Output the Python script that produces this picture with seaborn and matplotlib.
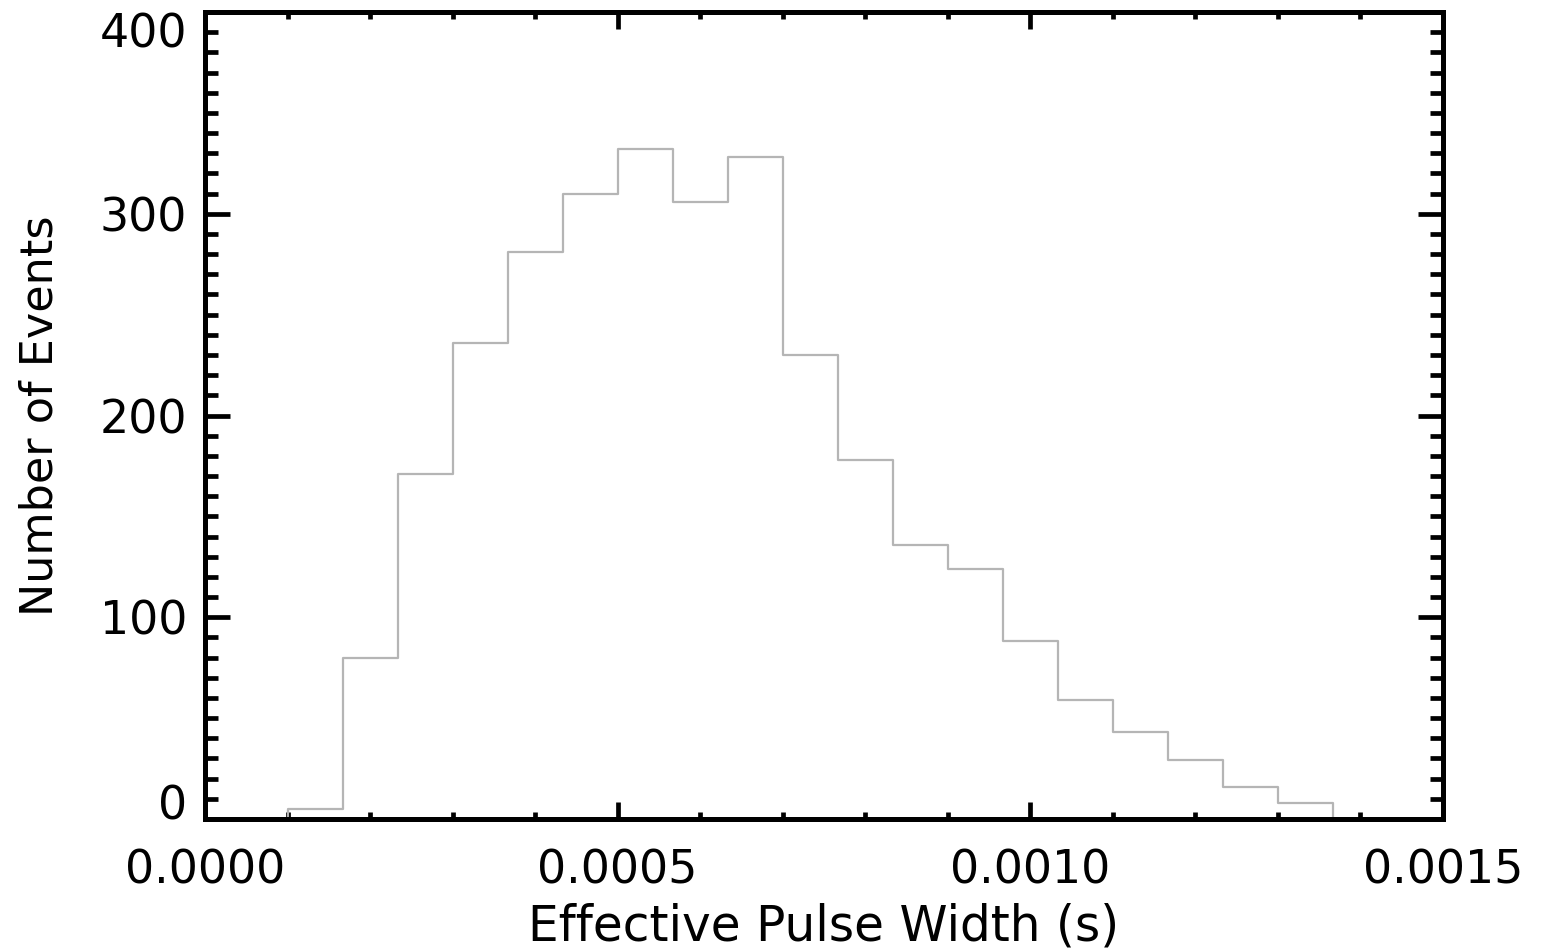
import numpy as np
import pandas as pd
import matplotlib
matplotlib.use("Agg")
import matplotlib.pyplot as plt
from matplotlib.ticker import MultipleLocator, FixedLocator
import seaborn as sns

# Histogram of effective pulse widths
bin_start = 0.0001          # s, left edge of first bin
bin_width = 0.0000667       # s
counts = [5, 80, 171, 236, 281, 310, 332, 306, 328, 230,
          178, 136, 124, 88, 59, 43, 29, 16, 8]

x_ticks = [0.0, 0.0005, 0.0010, 0.0015]
x_ticklabels = ["0.0000", "0.0005", "0.0010", "0.0015"]
y_ticks = [0, 100, 200, 300, 400]
y_ticklabels = ["0", "100", "200", "300", "400"]

edges = bin_start + bin_width * np.arange(len(counts) + 1)
centers = (edges[:-1] + edges[1:]) / 2
df = pd.DataFrame({"width": centers, "n": counts})

sns.set_theme(style="white")
plt.rcParams["font.family"] = ["DejaVu Sans"]
plt.rcParams["text.color"] = "black"
plt.rcParams["axes.labelcolor"] = "black"
plt.rcParams["xtick.color"] = "black"
plt.rcParams["ytick.color"] = "black"

fig = plt.figure(figsize=(15.46, 9.49), dpi=100)
ax = fig.add_axes([205 / 1546, 1 - 819 / 949, 1238 / 1546, 807 / 949])

sns.histplot(data=df, x="width", weights="n", bins=edges.tolist(),
             element="step", fill=True, color="#b5b5b5", facecolor="none",
             edgecolor="#b5b5b5", linewidth=1.6, ax=ax)

ax.set_xlim(0, 0.0015)
ax.set_ylim(0, 400)
ax.xaxis.set_major_locator(FixedLocator(x_ticks))
ax.set_xticklabels(x_ticklabels)
ax.yaxis.set_major_locator(FixedLocator(y_ticks))
ylabels = ax.set_yticklabels(y_ticklabels)
# keep the end labels inside the frame
ylabels[0].set_va("baseline")
ylabels[-1].set_va("top")
ax.xaxis.set_minor_locator(MultipleLocator(0.0001))
ax.yaxis.set_minor_locator(MultipleLocator(10))

for s in ax.spines.values():
    s.set_visible(True)
    s.set_linewidth(3.6)
    s.set_color("black")

ax.tick_params(which="both", direction="in", top=True, right=True,
               bottom=True, left=True, color="black", width=3.4)
ax.tick_params(axis="y", which="major", length=18, pad=13, labelsize=33)
ax.tick_params(axis="y", which="minor", length=9.5)
ax.tick_params(axis="x", which="major", length=12, pad=21, labelsize=33)
ax.tick_params(axis="x", which="minor", length=5)

ax.set_xlabel("Effective Pulse Width (s)", fontsize=35, labelpad=7)
ax.set_ylabel("Number of Events", fontsize=32, labelpad=27)

fig.savefig("out.png", dpi=100, facecolor="white")
